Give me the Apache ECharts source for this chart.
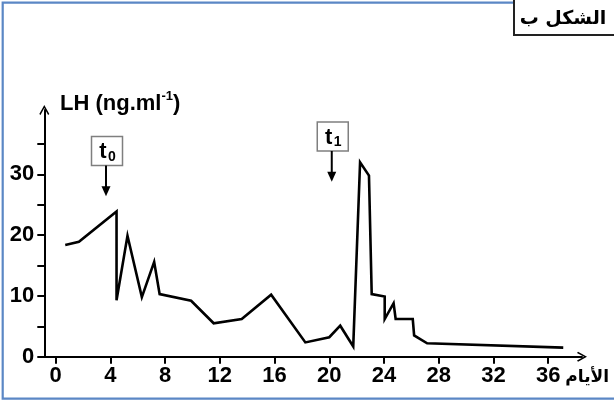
<!DOCTYPE html>
<html>
<head>
<meta charset="utf-8">
<script src="https://cdn.jsdelivr.net/npm/echarts@6/dist/echarts.min.js"></script>
<style>
html,body{margin:0;padding:0;background:#fff;}
#chart{width:614px;height:404px;}
</style>
</head>
<body>
<div id="chart"></div>
<script>
// ---- data ----
const days = [0.7, 1.7, 4.45, 4.45, 5.25, 6.3, 7.2, 7.6, 9.9, 11.55, 13.6, 15.75, 18.25, 20.0, 20.8, 21.75, 22.25, 22.9, 23.1, 24.05, 24.05, 24.7, 24.85, 26.1, 26.2, 27.15, 37.1];
const lhValues = [18.4, 18.9, 23.9, 9.3, 19.9, 9.8, 15.6, 10.3, 9.2, 5.5, 6.2, 10.2, 2.35, 3.2, 5.1, 1.7, 32.0, 29.8, 10.3, 9.9, 6.2, 8.8, 6.2, 6.2, 3.5, 2.2, 1.5];
const xTicks = [0, 4, 8, 12, 16, 20, 24, 28, 32, 36];
const yTicks = [0, 5, 10, 15, 20, 25, 30, 35];
const yLabels = [0, 10, 20, 30];
const markerDays = [3.68, 20.18];
const markerTips = [26.4, 28.8];
const markerSubs = ['0', '1'];
const markerMain = 't';
const yTitle = 'LH (ng.ml';
const yTitleSup = '-1';
const xTitle = 'الأيام';
const figLabel = 'الشكل ب';

const chart = echarts.init(document.getElementById('chart'), null, {renderer: 'canvas'});
const chevron = 'path://M5,0 L10,9 L8.8,10 L5,3 L1.2,10 L0,9 Z';
const FONT = 'Liberation Sans';

const option = {
  animation: false,
  backgroundColor: '#fff',
  grid: {left: 44.3, right: 32, top: 110, bottom: 47.3, containLabel: false},
  xAxis: {
    type: 'value', min: -0.83, max: 38.47,
    axisLine: {show: true, onZero: false, symbol: ['none', chevron], symbolSize: [10, 11], lineStyle: {color: '#000', width: 2}},
    axisTick: {show: true, customValues: xTicks, length: 7, lineStyle: {color: '#000', width: 2}},
    axisLabel: {customValues: xTicks, color: '#000', fontSize: 22, fontWeight: 'bold', fontFamily: FONT, margin: 8},
    splitLine: {show: false}
  },
  yAxis: {
    type: 'value', min: 0, max: 40.6,
    axisLine: {show: true, onZero: false, symbol: ['none', chevron], symbolSize: [10, 11], lineStyle: {color: '#000', width: 2}},
    axisTick: {show: true, customValues: yTicks, length: 7, lineStyle: {color: '#000', width: 2}},
    axisLabel: {customValues: yLabels, color: '#000', fontSize: 22, fontWeight: 'bold', fontFamily: FONT, margin: 10},
    splitLine: {show: false}
  },
  series: [
    {
      type: 'line',
      data: days.map((d, i) => [d, lhValues[i]]),
      showSymbol: false,
      lineStyle: {color: '#000', width: 2.6, join: 'miter'},
      z: 3
    },
    {
      type: 'custom',
      clip: false,
      data: markerDays.map((d, i) => [d, markerTips[i]]),
      renderItem: function (params, api) {
        const p = api.coord([api.value(0), api.value(1)]);
        const x = p[0], y = p[1];
        const sub = markerSubs[params.dataIndex];
        return {
          type: 'group',
          children: [
            {type: 'rect', shape: {x: x - 14.5, y: y - 59.7, width: 31, height: 29},
             style: {fill: '#fff', stroke: '#7f7f7f', lineWidth: 1.5}},
            {type: 'line', shape: {x1: x, y1: y - 30.7, x2: x, y2: y - 8},
             style: {stroke: '#000', lineWidth: 2}},
            {type: 'polygon', shape: {points: [[x - 4.5, y - 10], [x + 4.5, y - 10], [x, y]]},
             style: {fill: '#000'}},
            {type: 'text', style: {text: markerMain, x: x - 3, y: y - 44, align: 'center', verticalAlign: 'middle',
             font: 'bold 22px ' + FONT, fill: '#000'}},
            {type: 'text', style: {text: sub, x: x + 6, y: y - 39.5, align: 'center', verticalAlign: 'middle',
             font: 'bold 14px ' + FONT, fill: '#000'}}
          ]
        };
      },
      z: 4
    }
  ],
  graphic: [
    {type: 'rect', shape: {x: 2.7, y: 2.7, width: 620, height: 396}, style: {fill: 'none', stroke: '#5b87c5', lineWidth: 2.2}, silent: true},
    {type: 'rect', shape: {x: 514, y: -3, width: 110, height: 38}, style: {fill: '#fff', stroke: '#222', lineWidth: 2}},
    {type: 'text', x: 563, y: 19, style: {text: figLabel, align: 'center', verticalAlign: 'middle',
      font: 'bold 19px "DejaVu Sans"', fill: '#000'}},
    {type: 'text', x: 60, y: 102, style: {
      text: '{a|' + yTitle + '}{b|' + yTitleSup + '}{a|)}',
      verticalAlign: 'middle',
      rich: {
        a: {fontFamily: FONT, fontWeight: 'bold', fontSize: 22, fill: '#000', color: '#000', lineHeight: 25, verticalAlign: 'bottom'},
        b: {fontFamily: FONT, fontWeight: 'bold', fontSize: 13, fill: '#000', color: '#000', lineHeight: 25, verticalAlign: 'top', padding: [0, 0, 8, 0]}
      }
    }},
    {type: 'text', x: 609, y: 378, style: {text: xTitle, align: 'right', verticalAlign: 'middle',
      font: 'bold 17px "DejaVu Sans"', fill: '#000'}}
  ]
};
chart.setOption(option);
</script>
</body>
</html>
